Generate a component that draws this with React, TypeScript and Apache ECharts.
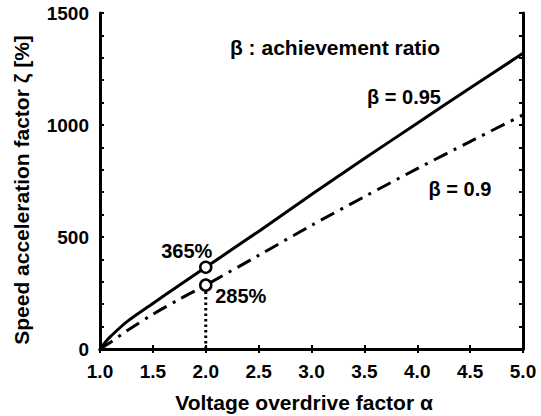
import React, { useEffect, useRef } from "react";
import * as echarts from "echarts";

const alphaSolid = [1.0, 1.05, 1.1, 1.25, 1.5, 1.75, 2.0, 2.5, 3.0, 3.5, 4.0, 4.5, 5.0];
const zetaBeta095 = [0, 30, 56, 120, 203, 285, 365, 525, 690, 850, 1008, 1165, 1320];
const alphaDash = [1.0, 1.05, 1.1, 1.25, 1.5, 1.75, 2.0, 2.5, 3.0, 3.5, 4.0, 4.5, 5.0];
const zetaBeta090 = [0, 15, 30, 80, 155, 222, 285, 418, 552, 680, 805, 926, 1045];
const markAlpha = 2.0;
const markValues = [365, 285];
const markLabels = ["365%", "285%"];
const xTicks = { min: 1, max: 5, interval: 0.5 };
const yTicks = { min: 0, max: 1500, interval: 500 };

const FONT = '"Liberation Sans", Arial, sans-serif';

export default function App() {
  const ref = useRef<HTMLDivElement>(null);
  useEffect(() => {
    if (!ref.current) return;
    const chart = echarts.init(ref.current, undefined, { renderer: "svg" });
    const axisLine = { show: true, lineStyle: { color: "#000", width: 3 } };
    const tick = { show: true, inside: true, length: 4, lineStyle: { color: "#000", width: 2 } };
    const minor = { show: true, splitNumber: 5, length: 4, lineStyle: { color: "#000", width: 2 } };
    const tickLabel = { color: "#000", fontSize: 19, fontWeight: "bold" as const, fontFamily: FONT };
    const annot = { color: "#000", fontSize: 20, fontWeight: "bold" as const, fontFamily: FONT };
    const bigFont = `bold 21px ${FONT}`;
    const annFont = `bold 20px ${FONT}`;
    chart.setOption({
      animation: false,
      backgroundColor: "#fff",
      grid: { left: 100, right: 18, top: 13, bottom: 67, containLabel: false },
      xAxis: [
        {
          type: "value", position: "bottom", ...xTicks,
          axisLine, axisTick: tick, splitLine: { show: false },
          axisLabel: { ...tickLabel, margin: 13, formatter: (v: number) => v.toFixed(1) },
        },
        {
          type: "value", position: "top", ...xTicks,
          axisLine, axisTick: tick, splitLine: { show: false }, axisLabel: { show: false },
        },
      ],
      yAxis: [
        {
          type: "value", position: "left", ...yTicks,
          axisLine, axisTick: tick, minorTick: minor, splitLine: { show: false },
          axisLabel: { ...tickLabel, margin: 11, formatter: (v: number) => String(v) },
        },
        {
          type: "value", position: "right", ...yTicks,
          axisLine, axisTick: tick, minorTick: minor, splitLine: { show: false }, axisLabel: { show: false },
        },
      ],
      series: [
        {
          type: "line",
          data: alphaSolid.map((a, i) => [a, zetaBeta095[i]]),
          showSymbol: false,
          smooth: 0.3,
          lineStyle: { color: "#000", width: 3 },
          z: 3,
        },
        {
          type: "line",
          data: alphaDash.map((a, i) => [a, zetaBeta090[i]]),
          showSymbol: false,
          smooth: 0.3,
          lineStyle: { color: "#000", width: 3, type: [15, 7, 3, 7] },
          z: 3,
        },
        {
          type: "line",
          data: [[markAlpha, 0], [markAlpha, markValues[1]]],
          showSymbol: false,
          lineStyle: { color: "#000", width: 3, type: [2.5, 3] },
          z: 2,
        },
        {
          type: "scatter",
          data: markValues.map((v, i) => ({
            value: [markAlpha, v],
            label: {
              show: true,
              position: "inside",
              formatter: markLabels[i],
              offset: i === 0 ? [-19, -16] : [35, 11],
              ...annot,
            },
          })),
          symbol: "circle",
          symbolSize: 11,
          itemStyle: { color: "#fff", borderColor: "#000", borderWidth: 2.5, opacity: 1 },
          z: 5,
        },
      ],
      graphic: [
        {
          type: "text", x: 21, y: 190, rotation: Math.PI / 2,
          style: { text: "Speed acceleration factor ζ [%]", fill: "#000", align: "center", verticalAlign: "middle", font: bigFont },
        },
        {
          type: "text", x: 304, y: 402,
          style: { text: "Voltage overdrive factor α", fill: "#000", align: "center", verticalAlign: "middle", font: bigFont },
        },
        {
          type: "text", x: 335, y: 47,
          style: { text: "β : achievement ratio", fill: "#000", align: "center", verticalAlign: "middle", font: bigFont },
        },
        {
          type: "text", x: 404, y: 97,
          style: { text: "β = 0.95", fill: "#000", align: "center", verticalAlign: "middle", font: annFont },
        },
        {
          type: "text", x: 460, y: 189,
          style: { text: "β = 0.9", fill: "#000", align: "center", verticalAlign: "middle", font: annFont },
        },
      ],
    });
    return () => chart.dispose();
  }, []);
  return <div ref={ref} style={{ width: 541, height: 416, position: "absolute", left: 0, top: 0 }} />;
}
